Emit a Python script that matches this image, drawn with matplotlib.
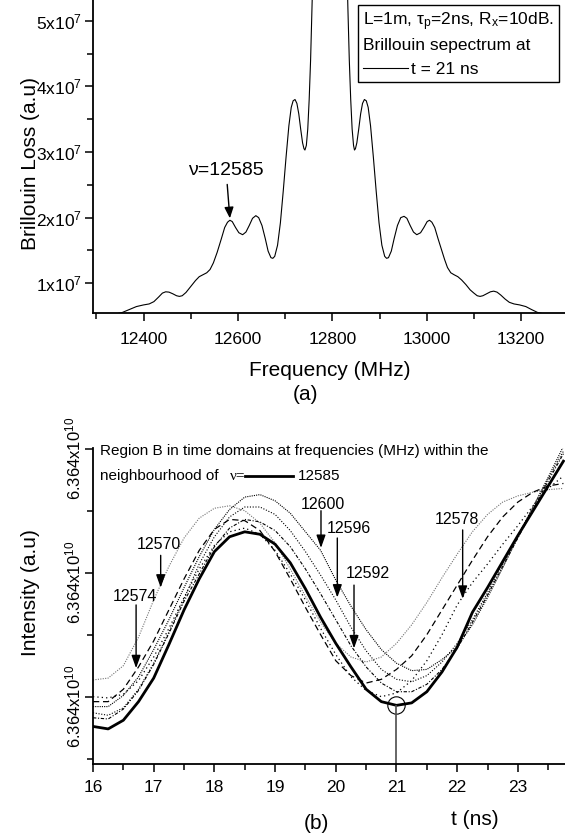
import numpy as np
import matplotlib
matplotlib.use('Agg')
import matplotlib.pyplot as plt
import matplotlib.transforms as mtransforms
from matplotlib.ticker import MultipleLocator, FuncFormatter, NullFormatter
from matplotlib.lines import Line2D

plt.rcParams['font.family'] = ['Liberation Sans', 'DejaVu Sans']
plt.rcParams['mathtext.fontset'] = 'custom'
plt.rcParams['mathtext.rm'] = 'Liberation Sans'
plt.rcParams['mathtext.it'] = 'Liberation Sans:italic'

# ---- panel (a): Brillouin loss spectrum at t = 21 ns ----
freq = [12293, 12320, 12340, 12355, 12370, 12385, 12400, 12412, 12422, 12432,
        12440, 12447, 12454, 12462, 12470, 12476, 12482, 12490, 12500, 12510,
        12518, 12526, 12534, 12541, 12548, 12556, 12565, 12572, 12578, 12583,
        12588, 12595, 12602, 12610, 12617, 12624, 12631, 12638, 12644, 12651,
        12658, 12664, 12670, 12674, 12678, 12684, 12690, 12696, 12702, 12708,
        12713, 12717, 12721, 12725, 12729, 12733, 12737, 12740, 12742, 12745,
        12748, 12751, 12754, 12757, 12760, 12770, 12785, 12795, 12805, 12820,
        12830, 12833, 12836, 12839, 12842, 12845, 12847, 12849, 12852, 12856,
        12860, 12864, 12868, 12872, 12876, 12881, 12887, 12893, 12899, 12905,
        12911, 12915, 12919, 12925, 12931, 12938, 12945, 12952, 12958, 12965,
        12972, 12979, 12987, 12994, 13001, 13006, 13011, 13017, 13024, 13031,
        13038, 13044, 13051, 13058, 13066, 13074, 13083, 13092, 13100, 13107,
        13113, 13119, 13127, 13135, 13142, 13149, 13157, 13166, 13175, 13185,
        13197, 13210, 13222, 13235, 13250, 13270, 13293]
loss = [0.50, 0.51, 0.53, 0.555, 0.60, 0.645, 0.67, 0.685, 0.72, 0.79,
        0.85, 0.87, 0.865, 0.84, 0.81, 0.80, 0.81, 0.86, 0.95, 1.04,
        1.10, 1.13, 1.16, 1.21, 1.31, 1.47, 1.68, 1.85, 1.93, 1.96,
        1.94, 1.85, 1.77, 1.74, 1.78, 1.88, 1.99, 2.03, 2.00, 1.88,
        1.68, 1.49, 1.39, 1.38, 1.41, 1.58, 1.92, 2.40, 2.92, 3.40,
        3.68, 3.78, 3.80, 3.74, 3.58, 3.35, 3.14, 3.05, 3.03, 3.10,
        3.35, 3.80, 4.40, 5.20, 6.1, 8.5, 10.5, 11.0, 10.5, 8.5,
        6.1, 5.20, 4.40, 3.80, 3.35, 3.10, 3.03, 3.05, 3.14, 3.35,
        3.58, 3.74, 3.80, 3.78, 3.68, 3.40, 2.92, 2.40, 1.92, 1.58,
        1.41, 1.38, 1.39, 1.49, 1.68, 1.88, 2.00, 2.02, 1.99, 1.88,
        1.78, 1.74, 1.77, 1.85, 1.94, 1.96, 1.93, 1.85, 1.68, 1.52,
        1.36, 1.24, 1.16, 1.13, 1.10, 1.05, 0.98, 0.90, 0.85, 0.81,
        0.80, 0.81, 0.84, 0.87, 0.88, 0.865, 0.82, 0.76, 0.71, 0.685,
        0.67, 0.645, 0.60, 0.555, 0.53, 0.51, 0.50]  # x 1e7

# ---- panel (b): intensity vs time near nu = 12585 MHz ----
t_ns = np.arange(16.0, 23.76, 0.25)
I0 = 6.36402e10   # intensity of the lowest labelled tick
dI = 2e6          # step between labelled ticks
# relative intensity (in units of dI above I0)
rel = {
    12585: [-0.24, -0.26, -0.19, -0.04, 0.15, 0.42, 0.70, 0.95, 1.17, 1.29,
            1.33, 1.31, 1.23, 1.08, 0.87, 0.64, 0.43, 0.24, 0.06, -0.04,
            -0.07, -0.05, 0.04, 0.20, 0.40, 0.68, 0.88, 1.09, 1.30, 1.50,
            1.70, 1.90],
    12570: [0.135, 0.15, 0.25, 0.48, 0.78, 1.05, 1.28, 1.44, 1.52, 1.54,
            1.50, 1.40, 1.24, 1.03, 0.81, 0.60, 0.43, 0.32, 0.28, 0.32,
            0.43, 0.58, 0.76, 0.96, 1.15, 1.33, 1.47, 1.57, 1.62, 1.65,
            1.67, 1.68],
    12574: [-0.04, -0.04, 0.06, 0.24, 0.45, 0.70, 0.95, 1.18, 1.35, 1.43,
            1.42, 1.34, 1.17, 0.95, 0.72, 0.50, 0.29, 0.17, 0.11, 0.14,
            0.22, 0.33, 0.50, 0.70, 0.90, 1.10, 1.29, 1.45, 1.57, 1.65,
            1.70, 1.72],
    12578: [0.00, -0.01, 0.02, 0.13, 0.32, 0.55, 0.80, 1.03, 1.22, 1.33,
            1.36, 1.31, 1.18, 0.99, 0.78, 0.55, 0.34, 0.16, 0.05, 0.00,
            0.03, 0.13, 0.29, 0.50, 0.74, 0.92, 1.07, 1.23, 1.38, 1.54,
            1.68, 1.78],
    12592: [-0.17, -0.18, -0.10, 0.05, 0.26, 0.51, 0.77, 0.99, 1.21, 1.36,
            1.43, 1.41, 1.34, 1.21, 1.03, 0.83, 0.62, 0.41, 0.24, 0.11,
            0.04, 0.04, 0.10, 0.22, 0.39, 0.60, 0.82, 1.05, 1.28, 1.51,
            1.74, 1.96],
    12596: [-0.13, -0.15, -0.09, 0.06, 0.27, 0.52, 0.79, 1.07, 1.29, 1.45,
            1.53, 1.53, 1.47, 1.34, 1.17, 0.98, 0.78, 0.56, 0.37, 0.22,
            0.14, 0.12, 0.17, 0.28, 0.43, 0.62, 0.84, 1.07, 1.30, 1.53,
            1.76, 1.98],
    12600: [-0.08, -0.08, 0.01, 0.16, 0.38, 0.62, 0.88, 1.13, 1.35, 1.51,
            1.61, 1.63, 1.58, 1.48, 1.33, 1.18, 0.94, 0.73, 0.54, 0.38,
            0.27, 0.21, 0.22, 0.30, 0.40, 0.58, 0.80, 1.04, 1.29, 1.53,
            1.77, 2.02],
}
line_styles = {
    12585: dict(color='k', lw=2.0, ls='-'),
    12570: dict(color='0.45', lw=0.8, ls=(0, (1, 1.2))),
    12574: dict(color='k', lw=0.9, ls=(0, (5, 3))),
    12578: dict(color='k', lw=0.9, ls=(0, (1, 2.5))),
    12592: dict(color='k', lw=0.8, ls=(0, (3, 1.5, 1, 1.5))),
    12596: dict(color='k', lw=0.8, ls=(0, (1, 1.5))),
    12600: dict(color='k', lw=0.8, ls=(0, (1, 1))),
}
# label text position (t, rel) and arrow (t, rel_start, rel_tip)
labels_b = {
    12570: ((17.08, 1.23), (17.115, 1.14, 0.88)),
    12574: ((16.69, 0.81), (16.71, 0.74, 0.23)),
    12600: ((19.78, 1.55), (19.756, 1.50, 1.20)),
    12596: ((20.22, 1.36), (20.025, 1.28, 0.80)),
    12592: ((20.535, 0.99), (20.30, 0.90, 0.39)),
    12578: ((22.00, 1.43), (22.09, 1.345, 0.79)),
}
t_mark = 21.0

W, H = 565, 833
fig = plt.figure(figsize=(W / 100, H / 100), dpi=100)

# ================= panel (a) =================
ax1 = fig.add_axes([93 / W, 1 - 313 / H, 472 / W, 313 / H])
ax1.plot(freq, np.array(loss) * 1e7, color='k', lw=0.8)
ax1.set_xlim(12293, 13293)
ax1.set_ylim(0.547e7, 5.316e7)
ax1.xaxis.set_major_locator(MultipleLocator(200))
ax1.xaxis.set_minor_locator(MultipleLocator(100))
ax1.yaxis.set_major_locator(MultipleLocator(1e7))
ax1.yaxis.set_minor_locator(MultipleLocator(0.5e7))
ax1.yaxis.set_major_formatter(FuncFormatter(lambda v, p: '%dx10$^{\\mathregular{7}}$' % round(v / 1e7)))
for s in ['top', 'right']:
    ax1.spines[s].set_visible(False)
for s in ['left', 'bottom']:
    ax1.spines[s].set_linewidth(1.3)
ax1.tick_params(axis='both', which='major', length=5.5, width=1.1, labelsize=12.5)
ax1.tick_params(axis='both', which='minor', length=4, width=1.1)
ax1.tick_params(axis='x', pad=8)
ax1.tick_params(axis='y', pad=2.5)
ax1.set_xlabel('Frequency (MHz)', fontsize=15)
ax1.xaxis.set_label_coords(0.5015, -0.153)
ax1.set_ylabel('Brillouin Loss (a.u)', fontsize=15)
ax1.yaxis.set_label_coords(-0.112, 0.478)

ax1.annotate('ν=12585', xy=(12583, 1.99e7), xytext=(12575, 2.72e7),
             ha='center', va='center', fontsize=14,
             arrowprops=dict(arrowstyle='-|>,head_length=0.6,head_width=0.25',
                             color='k', lw=1, mutation_scale=11, shrinkA=2, shrinkB=0))

leg = ax1.legend([Line2D([], [], color='k', lw=0.8)], ['t = 21 ns'],
                 title='L=1m, τ$_\\mathregular{p}$=2ns, R$_\\mathregular{x}$=10dB.\nBrillouin sepectrum at',
                 alignment='left', loc='upper right', bbox_to_anchor=(0.987, 0.984),
                 borderaxespad=0, fontsize=12.5, title_fontsize=12.5,
                 handlelength=2.6, handletextpad=0.15, borderpad=0.3,
                 fancybox=False, framealpha=1, edgecolor='k')
leg.get_frame().set_linewidth(1.0)
leg.get_title().set_linespacing(1.45)

fig.text(305.6 / W, 1 - 394.4 / H, '(a)', ha='center', va='center', fontsize=15)

# ================= panel (b) =================
ax2 = fig.add_axes([93 / W, 1 - 764 / H, 472 / W, 316 / H])
for freq_b in [12570, 12574, 12578, 12592, 12596, 12600, 12585]:
    ax2.plot(t_ns, I0 + dI * np.array(rel[freq_b]), **line_styles[freq_b])

ax2.set_xlim(16, 23.776)
ax2.set_ylim(I0 - 0.543 * dI, I0 + 2.006 * dI)
ax2.xaxis.set_major_locator(MultipleLocator(1))
ax2.xaxis.set_minor_locator(MultipleLocator(0.5))
ytick_vals = I0 + dI * np.array([0, 1, 2])
ax2.set_yticks(ytick_vals)
ax2.set_yticks(I0 + dI * np.array([-0.5, 0.5, 1.5]), minor=True)
ax2.yaxis.set_major_formatter(NullFormatter())
# vertical tick labels, drawn a little below their ticks as in the original
ylab_trans = mtransforms.blended_transform_factory(ax2.transAxes, ax2.transData)
for v in ytick_vals:
    ax2.text(-0.0212, v - 0.08 * dI, '%.3fx10$^{\\mathregular{10}}$' % (v / 1e10),
             transform=ylab_trans, rotation=90, ha='right', va='center',
             fontsize=12, clip_on=False)
for s in ['top', 'right']:
    ax2.spines[s].set_visible(False)
for s in ['left', 'bottom']:
    ax2.spines[s].set_linewidth(1.3)
ax2.tick_params(axis='both', which='major', length=5.5, width=1.1)
ax2.tick_params(axis='both', which='minor', length=4, width=1.1)
ax2.tick_params(axis='x', labelsize=12.5, pad=6)
ax2.set_xlabel('t (ns)', fontsize=15)
ax2.xaxis.set_label_coords(0.809, -0.146)
ax2.set_ylabel('Intensity (a.u)', fontsize=15)
ax2.yaxis.set_label_coords(-0.112, 0.543)

# header text with line sample of the 12585 MHz curve
ax2.text(0.0148, 0.9915, 'Region B in time domains at frequencies (MHz) within the',
         transform=ax2.transAxes, ha='left', va='center', fontsize=11)
ax2.text(0.0148, 0.911, 'neighbourhood of', transform=ax2.transAxes,
         ha='left', va='center', fontsize=11)
ax2.text(0.322, 0.911, 'ν=', transform=ax2.transAxes, ha='right', va='center',
         fontsize=11, family=['Liberation Serif', 'DejaVu Serif'])
ax2.add_line(Line2D([0.322, 0.4237], [0.911, 0.911], transform=ax2.transAxes,
                    color='k', lw=2.0))
ax2.text(0.434, 0.911, '12585', transform=ax2.transAxes, ha='left', va='center', fontsize=11)

for freq_b, (txt_pos, arr) in labels_b.items():
    ax2.text(txt_pos[0], I0 + dI * txt_pos[1], str(freq_b), ha='center', va='center', fontsize=11.5)
    ax2.annotate('', xy=(arr[0], I0 + dI * arr[2]), xytext=(arr[0], I0 + dI * arr[1]),
                 arrowprops=dict(arrowstyle='-|>,head_length=0.7,head_width=0.25',
                                 color='k', lw=1, mutation_scale=11, shrinkA=0, shrinkB=0))

# marker of t = 21 ns on the 12585 MHz curve
y_mark = I0 + dI * rel[12585][list(t_ns).index(t_mark)]
ax2.plot([t_mark], [y_mark], 'o', mfc='none', mec='k', ms=12.5, mew=0.8)
ax2.vlines(t_mark, I0 - 0.543 * dI, y_mark, color='0.3', lw=1.2)

fig.text(316 / W, 1 - 823.6 / H, '(b)', ha='center', va='center', fontsize=15)

fig.savefig('out.png', dpi=100)
